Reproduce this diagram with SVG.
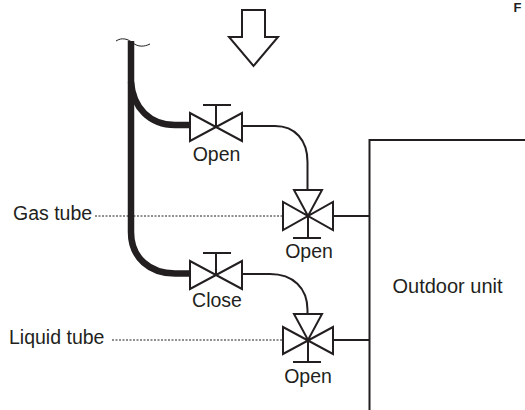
<svg xmlns="http://www.w3.org/2000/svg" width="525" height="410" viewBox="0 0 525 410">
<style>
.l{fill:none;stroke:#231f20;stroke-width:2}
.t{fill:none;stroke:#231f20;stroke-width:1}
.p{fill:none;stroke:#231f20;stroke-width:6.5}
.d{fill:none;stroke:#231f20;stroke-width:1;stroke-dasharray:2 1.5}
text{font-family:"Liberation Sans",Arial,sans-serif;font-size:19.5px;fill:#231f20}
.m{text-anchor:middle}
</style>
<g id="connectors">
<path class="p" d="M131 41V232C131 258 150 273.500 175 273.500H190"/>
<path class="p" d="M131 82C133 108 150 125 175 125H190"/>
<path class="t" d="M116 41C122 37 128 39 133 43C138 47 144 47 150 44"/>
<path class="l" d="M242 126H275C295 126 307.500 140 307.500 162V190"/>
<path class="l" d="M242 274H270C293 274 307.500 288 307.500 310V314"/>
<path class="l" d="M333 216H369"/>
<path class="l" d="M333 340H369"/>
<path class="d" d="M95 216H283"/>
<path class="d" d="M112 340H283"/>
</g>
<g id="arrow"><path class="l" d="M242 10H265V37H278L253.500 66L229 37H242Z"/></g>
<g id="valve-gas-service"><path class="l" d="M190 113V141L242 113V141ZM216 127V105M203 105H231"/><text class="m" x="216.500" y="160.500">Open</text></g>
<g id="valve-gas-main"><path class="l" d="M294 190H322L308 216ZM283 202V230L333 202V230ZM308 216V238M293 238H321"/><text class="m" x="309" y="258">Open</text></g>
<g id="valve-liquid-service"><path class="l" d="M190 261V289L242 261V289ZM216 275V253M203 253H231"/><text class="m" x="217" y="307">Close</text></g>
<g id="valve-liquid-main"><path class="l" d="M294 314H322L308 340ZM283 327V354L333 327V354ZM308 340V362M293 362H321"/><text class="m" x="308" y="383">Open</text></g>
<g id="outdoor-unit"><path class="l" d="M525 140H369.500V410"/><text x="392.500" y="293" style="font-size:20px">Outdoor unit</text></g>
<g id="labels">
<text x="13" y="220">Gas tube</text>
<text x="9" y="344">Liquid tube</text>
<text x="513.500" y="11.800" style="font-weight:bold;font-size:13px">F</text>
</g>
</svg>
